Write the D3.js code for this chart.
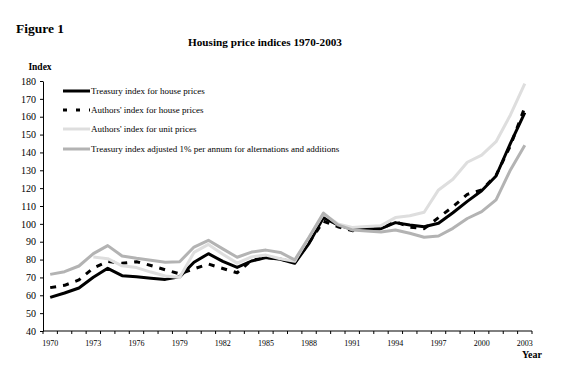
<!DOCTYPE html>
<html><head><meta charset="utf-8">
<script src="https://cdn.jsdelivr.net/npm/d3@7"></script>
<style>body{margin:0;background:#fff}svg{display:block}text{font-family:"Liberation Serif","Times New Roman",serif;fill:#000}</style>
</head><body><svg id="c" width="580" height="370"></svg>
<script>
const years = d3.range(1970, 2004);
const xTickLabels = [1970,1973,1976,1979,1982,1985,1988,1991,1994,1997,2000,2003];
const yTicks = [40,50,60,70,80,90,100,110,120,130,140,150,160,170,180];
const seriesNames = ["Treasury index for house prices","Authors' index for house prices","Authors' index for unit prices","Treasury index adjusted 1% per annum for alternations and additions"];
const treasury = [58.8,61.3,64.1,70.1,75.1,71.0,70.4,69.6,68.9,70.3,78.5,83.3,79.0,75.6,79.2,81.1,80.2,77.9,89.1,103.5,99.4,96.9,97.3,97.3,100.7,99.4,98.4,100.3,106.2,112.6,118.5,126.8,145.1,162.3];
const authorsHouse = [64.3,65.6,68.6,75.3,78.9,77.9,78.8,76.7,74.3,72.0,74.8,77.5,75.0,72.6,79.6,81.1,80.3,78.4,89.5,101.5,98.4,96.2,97.1,97.3,101.2,98.2,97.3,103.5,109.6,116.5,119.0,127.2,143.8,165.3];
const authorsUnit = [null,null,null,81.5,80.5,76.5,75.5,73.0,70.8,70.0,84.0,88.5,83.0,78.0,81.5,82.5,80.5,79.0,92.5,105.5,100.0,98.0,98.5,99.0,103.5,104.5,106.5,119.0,125.0,134.5,138.5,146.0,161.0,178.5];
const adjusted = [71.7,73.2,76.4,83.3,87.8,82.0,80.7,79.6,78.5,78.8,87.0,90.8,86.0,81.3,84.2,85.3,84.0,79.8,92.5,106.0,99.4,96.6,96.0,95.5,96.6,94.7,92.5,93.2,97.5,103.0,106.8,113.4,130.2,144.0];

const styles = [
  {color:"#000", width:3, dash:null},
  {color:"#000", width:3, dash:"6,7"},
  {color:"#dedede", width:3, dash:null},
  {color:"#b3b3b3", width:3, dash:null}
];
const data = [treasury, authorsHouse, authorsUnit, adjusted];

const svg = d3.select("#c");
const mLeft = 43, mRight = 532, mTop = 81, mBottom = 331;
const x = d3.scaleBand().domain(years).range([mLeft, mRight]);
const y = d3.scaleLinear().domain([40, 180]).range([mBottom, mTop]);

svg.append("text").attr("x",16).attr("y",33).attr("font-size",13.5).attr("font-weight","bold").text("Figure 1");
svg.append("text").attr("x",265).attr("y",46).attr("text-anchor","middle").attr("font-size",11.2).attr("font-weight","bold").text("Housing price indices 1970-2003");
svg.append("text").attr("x",40).attr("y",70).attr("text-anchor","middle").attr("font-size",9.5).attr("font-weight","bold").text("Index");
svg.append("text").attr("x",532).attr("y",358).attr("text-anchor","middle").attr("font-size",10).attr("font-weight","bold").text("Year");

// y axis
const yAxis = d3.axisLeft(y).tickValues(yTicks).tickSize(3).tickSizeOuter(0).tickPadding(4);
const gy = svg.append("g").attr("transform",`translate(${mLeft},0)`).call(yAxis);
gy.selectAll("text").attr("font-size",10).style("font-family","'Liberation Serif',serif");
gy.selectAll("line,path").attr("stroke","#000");

// x axis with ticks at category boundaries
const gx = svg.append("g").attr("transform",`translate(0,${mBottom})`);
gx.append("line").attr("x1",mLeft).attr("x2",mRight).attr("stroke","#000");
const bounds = years.map(d=>x(d)).concat([mRight]);
gx.selectAll("line.t").data(bounds).join("line").attr("class","t")
  .attr("x1",d=>d).attr("x2",d=>d).attr("y1",0).attr("y2",3).attr("stroke","#000");
gx.selectAll("text").data(xTickLabels).join("text")
  .attr("x",d=>x(d)+x.bandwidth()/2).attr("y",15).attr("text-anchor","middle").attr("font-size",8).text(d=>d);

const line = d3.line().defined(d=>d.v!=null).x(d=>x(d.yr)+x.bandwidth()/2).y(d=>y(d.v));
data.forEach((arr,i)=>{
  const pts = years.map((yr,j)=>({yr, v:arr[j]}));
  svg.append("path").datum(pts).attr("d",line).attr("fill","none")
    .attr("stroke",styles[i].color).attr("stroke-width",styles[i].width)
    .attr("stroke-dasharray",styles[i].dash).attr("stroke-linejoin","round");
});

// legend
const legY = [91,110,129,149];
seriesNames.forEach((n,i)=>{
  svg.append("line").attr("x1",63).attr("x2",90).attr("y1",legY[i]).attr("y2",legY[i])
    .attr("stroke",styles[i].color).attr("stroke-width",3)
    .attr("stroke-dasharray",i===1?"4,9":null);
  svg.append("text").attr("x",91).attr("y",legY[i]+3).attr("font-size",9).text(n);
});
</script></body></html>
